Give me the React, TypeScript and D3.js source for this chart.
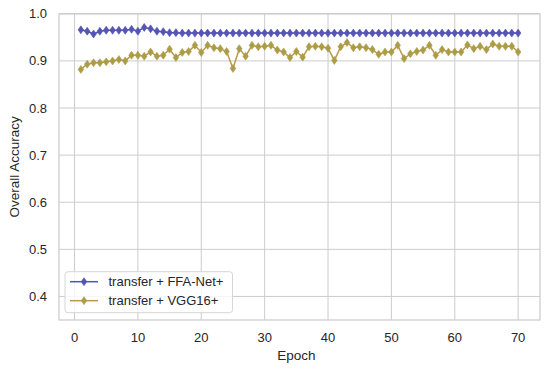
import * as d3 from 'd3';
import { useEffect, useRef } from 'react';

// epochs 1..70
const epochs = d3.range(1, 71);

const ffaNet = [
  0.966, 0.963, 0.957, 0.963, 0.965, 0.965, 0.965, 0.965, 0.967, 0.963,
  0.971, 0.968, 0.963, 0.962, 0.960, 0.960, 0.959, 0.959, 0.959, 0.959,
  0.959, 0.959, 0.959, 0.959, 0.959, 0.959, 0.959, 0.959, 0.959, 0.959,
  0.959, 0.959, 0.959, 0.959, 0.959, 0.959, 0.959, 0.959, 0.959, 0.959,
  0.959, 0.959, 0.959, 0.959, 0.959, 0.959, 0.959, 0.959, 0.959, 0.959,
  0.959, 0.959, 0.959, 0.959, 0.959, 0.959, 0.959, 0.959, 0.959, 0.959,
  0.959, 0.959, 0.959, 0.959, 0.959, 0.959, 0.959, 0.959, 0.959, 0.959,
];

const vgg16 = [
  0.882, 0.893, 0.896, 0.896, 0.898, 0.900, 0.903, 0.900, 0.912, 0.912,
  0.910, 0.919, 0.910, 0.912, 0.925, 0.907, 0.918, 0.920, 0.933, 0.918,
  0.933, 0.928, 0.926, 0.920, 0.884, 0.926, 0.910, 0.933, 0.930, 0.931,
  0.933, 0.923, 0.919, 0.907, 0.920, 0.908, 0.930, 0.931, 0.930, 0.927,
  0.901, 0.930, 0.939, 0.928, 0.930, 0.928, 0.924, 0.914, 0.919, 0.919,
  0.933, 0.905, 0.915, 0.920, 0.923, 0.933, 0.912, 0.924, 0.919, 0.919,
  0.919, 0.934, 0.926, 0.931, 0.924, 0.936, 0.931, 0.931, 0.931, 0.919,
];

const xTicks = [0, 10, 20, 30, 40, 50, 60, 70];
const yTicks = [0.4, 0.5, 0.6, 0.7, 0.8, 0.9, 1.0];

const series = [
  { name: 'transfer + FFA-Net+', values: ffaNet, color: '#4a58b0', marker: '#5a52b4' },
  { name: 'transfer + VGG16+', values: vgg16, color: '#b99a47', marker: '#a89e48' },
];

export default function App() {
  const svgRef = useRef(null);

  useEffect(() => {
    d3.select(svgRef.current).selectAll('*').remove();

    const width = 550;
    const height = 371;
    const marginLeft = 59;
    const marginRight = 10;
    const marginTop = 13.8;
    const marginBottom = 51;

    const x = d3.scaleLinear([-2.45, 73.45], [marginLeft, width - marginRight]);
    const y = d3.scaleLinear([0.35, 1.0], [height - marginBottom, marginTop]);

    const svg = d3.select(svgRef.current)
      .attr('viewBox', [0, 0, width, height])
      .attr('width', width)
      .attr('height', height)
      .style('font-family', 'Arial, "Liberation Sans", sans-serif')
      .style('display', 'block')
      .style('position', 'absolute')
      .style('left', '0px')
      .style('top', '0px');

    svg.append('rect')
      .attr('width', width).attr('height', height).attr('fill', 'white');

    // grid
    svg.append('g')
      .selectAll('line')
      .data(xTicks)
      .join('line')
      .attr('x1', d => x(d)).attr('x2', d => x(d))
      .attr('y1', marginTop).attr('y2', height - marginBottom)
      .attr('stroke', '#cccccc').attr('stroke-width', 1);

    svg.append('g')
      .selectAll('line')
      .data(yTicks)
      .join('line')
      .attr('x1', marginLeft).attr('x2', width - marginRight)
      .attr('y1', d => y(d)).attr('y2', d => y(d))
      .attr('stroke', '#cccccc').attr('stroke-width', 1);

    // frame
    svg.append('rect')
      .attr('x', marginLeft).attr('y', marginTop)
      .attr('width', width - marginRight - marginLeft)
      .attr('height', height - marginBottom - marginTop)
      .attr('fill', 'none').attr('stroke', '#cccccc').attr('stroke-width', 1.25);

    // tick labels
    svg.append('g')
      .selectAll('text')
      .data(xTicks)
      .join('text')
      .attr('x', d => x(d)).attr('y', 342)
      .attr('text-anchor', 'middle')
      .attr('font-size', 13).attr('fill', '#262626')
      .text(d => d);

    svg.append('g')
      .selectAll('text')
      .data(yTicks)
      .join('text')
      .attr('x', 47).attr('y', d => y(d) + 4.5)
      .attr('text-anchor', 'end')
      .attr('font-size', 13).attr('fill', '#262626')
      .text(d => d.toFixed(1));

    svg.append('text')
      .attr('x', x(35)).attr('y', 360)
      .attr('text-anchor', 'middle')
      .attr('font-size', 13.5).attr('fill', '#262626')
      .text('Epoch');

    svg.append('text')
      .attr('transform', `translate(19,${(marginTop + height - marginBottom) / 2}) rotate(-90)`)
      .attr('text-anchor', 'middle')
      .attr('font-size', 13.5).attr('fill', '#262626')
      .text('Overall Accuracy');

    const diamond = (cx, cy) => `M${cx},${cy - 4}L${cx + 2.8},${cy}L${cx},${cy + 4}L${cx - 2.8},${cy}Z`;

    const line = d3.line()
      .x((d, i) => x(epochs[i]))
      .y(d => y(d));

    series.forEach(s => {
      svg.append('path')
        .attr('fill', 'none')
        .attr('stroke', s.color)
        .attr('stroke-width', 1.5)
        .attr('d', line(s.values));
      svg.append('g')
        .selectAll('path')
        .data(s.values)
        .join('path')
        .attr('d', (d, i) => diamond(x(epochs[i]), y(d)))
        .attr('fill', s.marker)
        .attr('stroke', s.color)
        .attr('stroke-width', 0.6);
    });

    // legend
    const legend = svg.append('g');
    legend.append('rect')
      .attr('x', 65).attr('y', 271.7)
      .attr('width', 167.5).attr('height', 41)
      .attr('rx', 3)
      .attr('fill', 'white').attr('fill-opacity', 0.8)
      .attr('stroke', '#d6d6d6').attr('stroke-width', 1);

    series.forEach((s, i) => {
      const ly = 281.7 + i * 19;
      legend.append('line')
        .attr('x1', 70).attr('x2', 98).attr('y1', ly).attr('y2', ly)
        .attr('stroke', s.color).attr('stroke-width', 1.5);
      legend.append('path')
        .attr('d', diamond(84, ly))
        .attr('fill', s.marker).attr('stroke', s.color).attr('stroke-width', 0.6);
      legend.append('text')
        .attr('x', 108.5).attr('y', ly + 4.5)
        .attr('font-size', 13).attr('fill', '#262626')
        .text(s.name);
    });
  }, []);

  return <svg ref={svgRef} />;
}
